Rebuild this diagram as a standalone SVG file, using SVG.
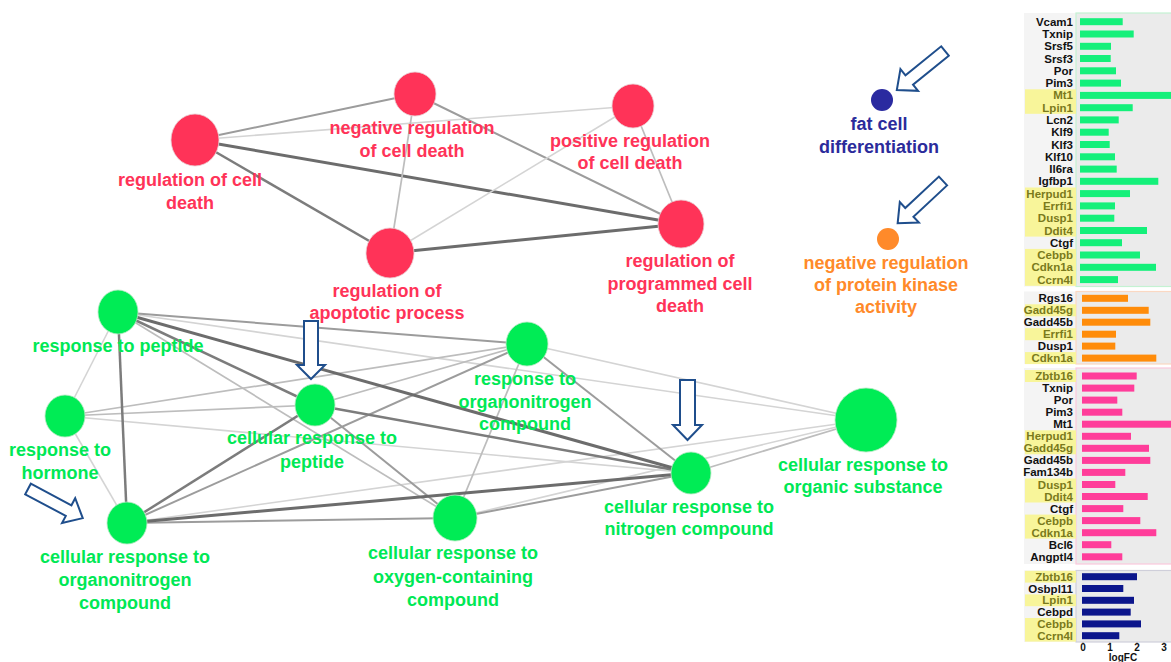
<svg xmlns="http://www.w3.org/2000/svg" width="1171" height="662" viewBox="0 0 1171 662">
<defs>
<style>
.lab{font-family:"Liberation Sans",Arial,sans-serif;font-weight:bold;font-size:18px;text-anchor:middle}
.lr{fill:#ff3358}.lg{fill:#00e855}.lb{fill:#2b2b9b}.lo{fill:#ff8a2a}
.nr{fill:#ff3358;stroke:#e8d0d4;stroke-width:0.8}
.ng{fill:#00ec55;stroke:#b8e8c4;stroke-width:0.8}
.e1{stroke:#d4d4d4;stroke-width:1.6}
.e2{stroke:#bdbdbd;stroke-width:1.7}
.e3{stroke:#9c9c9c;stroke-width:2}
.e4{stroke:#7c7c7c;stroke-width:2.5}
.e5{stroke:#6c6c6c;stroke-width:3}
.arr{fill:#fff;stroke:#1f4e8c;stroke-width:2;stroke-linejoin:miter}
.gl{font-family:"Liberation Sans",Arial,sans-serif;font-weight:bold;font-size:11.5px;text-anchor:end;fill:#111}
.gh{fill:#7a7a1c}
.hl{fill:#f8f59a}
.lbg{fill:#f4f4f4}
.pbg{fill:#ebebeb}
.tk{font-family:"Liberation Sans",Arial,sans-serif;font-weight:bold;font-size:10px;text-anchor:middle;fill:#111}
</style>
</defs>
<rect width="1171" height="662" fill="#fff"/>

<g id="connectors" fill="none">
<!-- red cluster -->
<line class="e3" x1="195" y1="140" x2="415" y2="94"/>
<line class="e1" x1="195" y1="140" x2="633" y2="106"/>
<line class="e5" x1="195" y1="140" x2="681" y2="224"/>
<line class="e4" x1="195" y1="140" x2="390" y2="253"/>
<line class="e2" x1="415" y1="94" x2="390" y2="253"/>
<line class="e3" x1="415" y1="94" x2="681" y2="224"/>
<line class="e1" x1="633" y1="106" x2="390" y2="253"/>
<line class="e2" x1="633" y1="106" x2="681" y2="224"/>
<line class="e5" x1="390" y1="253" x2="681" y2="224"/>
<!-- green cluster -->
<line class="e1" x1="118" y1="312" x2="866" y2="420"/>
<line class="e1" x1="65" y1="416" x2="691" y2="473"/>
<line class="e1" x1="127" y1="523" x2="866" y2="420"/>
<line class="e1" x1="527" y1="344" x2="866" y2="420"/>
<line class="e1" x1="455" y1="518" x2="866" y2="420"/>
<line class="e1" x1="118" y1="312" x2="65" y2="416"/>
<line class="e1" x1="65" y1="416" x2="127" y2="523"/>
<line class="e2" x1="65" y1="416" x2="527" y2="344"/>
<line class="e2" x1="65" y1="416" x2="315" y2="405"/>
<line class="e2" x1="118" y1="312" x2="455" y2="518"/>
<line class="e2" x1="315" y1="405" x2="527" y2="344"/>
<line class="e2" x1="527" y1="344" x2="455" y2="518"/>
<line class="e2" x1="691" y1="473" x2="866" y2="420"/>
<line class="e3" x1="118" y1="312" x2="527" y2="344"/>
<line class="e3" x1="127" y1="523" x2="527" y2="344"/>
<line class="e3" x1="127" y1="523" x2="455" y2="518"/>
<line class="e3" x1="315" y1="405" x2="455" y2="518"/>
<line class="e3" x1="527" y1="344" x2="691" y2="473"/>
<line class="e3" x1="455" y1="518" x2="691" y2="473"/>
<line class="e4" x1="118" y1="312" x2="127" y2="523"/>
<line class="e4" x1="118" y1="312" x2="315" y2="405"/>
<line class="e4" x1="127" y1="523" x2="315" y2="405"/>
<line class="e4" x1="315" y1="405" x2="691" y2="473"/>
<line class="e5" x1="118" y1="312" x2="691" y2="473"/>
<line class="e5" x1="127" y1="523" x2="691" y2="473"/>
</g>

<g id="node-regulation-of-cell-death">
<ellipse class="nr" cx="195" cy="140" rx="24" ry="26"/>
<text class="lab lr" x="190" y="186">regulation of cell</text>
<text class="lab lr" x="190" y="209">death</text>
</g>
<g id="node-negative-regulation-of-cell-death">
<ellipse class="nr" cx="415" cy="94" rx="21" ry="22"/>
<text class="lab lr" x="412" y="134">negative regulation</text>
<text class="lab lr" x="412" y="157">of cell death</text>
</g>
<g id="node-positive-regulation-of-cell-death">
<ellipse class="nr" cx="633" cy="106" rx="21" ry="22"/>
<text class="lab lr" x="630" y="147">positive regulation</text>
<text class="lab lr" x="630" y="169">of cell death</text>
</g>
<g id="node-regulation-of-apoptotic-process">
<ellipse class="nr" cx="390" cy="253" rx="24" ry="25"/>
<text class="lab lr" x="387" y="297">regulation of</text>
<text class="lab lr" x="387" y="319">apoptotic process</text>
</g>
<g id="node-regulation-of-programmed-cell-death">
<ellipse class="nr" cx="681" cy="224" rx="23" ry="24"/>
<text class="lab lr" x="680" y="267">regulation of</text>
<text class="lab lr" x="680" y="290">programmed cell</text>
<text class="lab lr" x="680" y="312">death</text>
</g>

<g id="node-response-to-peptide">
<ellipse class="ng" cx="118" cy="312" rx="20" ry="22"/>
<text class="lab lg" x="118" y="352">response to peptide</text>
</g>
<g id="node-response-to-hormone">
<ellipse class="ng" cx="65" cy="416" rx="20" ry="21"/>
<text class="lab lg" x="60" y="456">response to</text>
<text class="lab lg" x="60" y="479">hormone</text>
</g>
<g id="node-cellular-response-to-peptide">
<ellipse class="ng" cx="315" cy="405" rx="20" ry="21"/>
<text class="lab lg" x="312" y="444">cellular response to</text>
<text class="lab lg" x="312" y="468">peptide</text>
</g>
<g id="node-response-to-organonitrogen-compound">
<ellipse class="ng" cx="527" cy="344" rx="21" ry="22"/>
<text class="lab lg" x="525" y="385">response to</text>
<text class="lab lg" x="525" y="408">organonitrogen</text>
<text class="lab lg" x="525" y="430">compound</text>
</g>
<g id="node-cellular-response-to-organic-substance">
<ellipse class="ng" cx="866" cy="420" rx="31" ry="32"/>
<text class="lab lg" x="863" y="471">cellular response to</text>
<text class="lab lg" x="863" y="493">organic substance</text>
</g>
<g id="node-cellular-response-to-nitrogen-compound">
<ellipse class="ng" cx="691" cy="473" rx="20" ry="21"/>
<text class="lab lg" x="689" y="513">cellular response to</text>
<text class="lab lg" x="689" y="535">nitrogen compound</text>
</g>
<g id="node-cellular-response-to-organonitrogen-compound">
<ellipse class="ng" cx="127" cy="523" rx="20" ry="21"/>
<text class="lab lg" x="125" y="563">cellular response to</text>
<text class="lab lg" x="125" y="586">organonitrogen</text>
<text class="lab lg" x="125" y="609">compound</text>
</g>
<g id="node-cellular-response-to-oxygen-containing-compound">
<ellipse class="ng" cx="455" cy="518" rx="22" ry="23"/>
<text class="lab lg" x="453" y="559">cellular response to</text>
<text class="lab lg" x="453" y="583">oxygen-containing</text>
<text class="lab lg" x="453" y="606">compound</text>
</g>

<g id="node-fat-cell-differentiation">
<circle cx="882" cy="100" r="11" fill="#2a2aa0"/>
<text class="lab lb" x="879" y="130">fat cell</text>
<text class="lab lb" x="879" y="153">differentiation</text>
</g>
<g id="node-negative-regulation-of-protein-kinase-activity">
<circle cx="888" cy="239" r="11" fill="#ff8a2a"/>
<text class="lab lo" x="886" y="269">negative regulation</text>
<text class="lab lo" x="886" y="291">of protein kinase</text>
<text class="lab lo" x="886" y="313">activity</text>
</g>

<g id="highlight-arrows">
<path class="arr" d="M304,321 H318 V365 H325 L311,379 L297,365 H304 Z"/>
<path class="arr" d="M680,380 H695 V425 H702 L687.5,440 L673,425 H680 Z"/>
<path class="arr" transform="translate(28,489) rotate(28)" d="M0,-6 H46 V-14 L62,0 L46,14 V6 H0 Z"/>
<path class="arr" transform="translate(945,51) rotate(141)" d="M0,-6 H46 V-14 L62,0 L46,14 V6 H0 Z"/>
<path class="arr" transform="translate(943,181) rotate(137)" d="M0,-6 H46 V-14 L62,0 L46,14 V6 H0 Z"/>
</g>

<g id="bar-chart">
<!-- backgrounds -->
<rect class="lbg" x="1024" y="13" width="52" height="273.5"/>
<rect class="pbg" x="1076" y="13" width="100" height="273.5" stroke="#c4f2d2" stroke-width="1.2"/>
<rect class="lbg" x="1024" y="291.5" width="52" height="72.5"/>
<rect class="pbg" x="1076" y="291.5" width="100" height="72.5" stroke="#fad8c2" stroke-width="1.2"/>
<rect class="lbg" x="1024" y="368" width="52" height="196"/>
<rect class="pbg" x="1076" y="368" width="100" height="196" stroke="#fbc8dc" stroke-width="1.2"/>
<rect class="lbg" x="1024" y="570.5" width="52" height="71.5"/>
<rect class="pbg" x="1076" y="570.5" width="100" height="71.5" stroke="#cfcfda" stroke-width="1.2"/>
<!-- highlights -->
<g class="hl">
<rect x="1025" y="89.3" width="51" height="24.5"/>
<rect x="1025" y="187.5" width="51" height="49.1"/>
<rect x="1025" y="248.9" width="51" height="36.9"/>
<rect x="1025" y="304.3" width="51" height="12"/>
<rect x="1025" y="328.2" width="51" height="12"/>
<rect x="1025" y="352.1" width="51" height="12"/>
<rect x="1025" y="370" width="51" height="12"/>
<rect x="1025" y="430.3" width="51" height="24"/>
<rect x="1025" y="478.5" width="51" height="24"/>
<rect x="1025" y="514.6" width="51" height="24"/>
<rect x="1025" y="570.8" width="51" height="11.8"/>
<rect x="1025" y="594.4" width="51" height="11.8"/>
<rect x="1025" y="618" width="51" height="23.6"/>
</g>
<!-- green bars -->
<g fill="#14f07a">
<rect x="1080" y="18.2" width="42.7" height="7"/>
<rect x="1080" y="30.5" width="53.7" height="7"/>
<rect x="1080" y="42.8" width="31" height="7"/>
<rect x="1080" y="55" width="30.7" height="7"/>
<rect x="1080" y="67.3" width="36" height="7"/>
<rect x="1080" y="79.6" width="41" height="7"/>
<rect x="1080" y="91.9" width="95" height="7"/>
<rect x="1080" y="104.2" width="52.7" height="7"/>
<rect x="1080" y="116.4" width="38.7" height="7"/>
<rect x="1080" y="128.7" width="28.7" height="7"/>
<rect x="1080" y="141" width="29.7" height="7"/>
<rect x="1080" y="153.3" width="35" height="7"/>
<rect x="1080" y="165.6" width="36.7" height="7"/>
<rect x="1080" y="177.8" width="78.3" height="7"/>
<rect x="1080" y="190.1" width="50" height="7"/>
<rect x="1080" y="202.4" width="35" height="7"/>
<rect x="1080" y="214.7" width="34.3" height="7"/>
<rect x="1080" y="227" width="67" height="7"/>
<rect x="1080" y="239.2" width="42" height="7"/>
<rect x="1080" y="251.5" width="60" height="7"/>
<rect x="1080" y="263.8" width="76" height="7"/>
<rect x="1080" y="276.1" width="38" height="7"/>
</g>
<g class="gl">
<text x="1073" y="25.7">Vcam1</text>
<text x="1073" y="38">Txnip</text>
<text x="1073" y="50.3">Srsf5</text>
<text x="1073" y="62.5">Srsf3</text>
<text x="1073" y="74.8">Por</text>
<text x="1073" y="87.1">Pim3</text>
<text x="1073" y="99.4" class="gh">Mt1</text>
<text x="1073" y="111.7" class="gh">Lpin1</text>
<text x="1073" y="123.9">Lcn2</text>
<text x="1073" y="136.2">Klf9</text>
<text x="1073" y="148.5">Klf3</text>
<text x="1073" y="160.8">Klf10</text>
<text x="1073" y="173.1">Il6ra</text>
<text x="1073" y="185.3">Igfbp1</text>
<text x="1073" y="197.6" class="gh">Herpud1</text>
<text x="1073" y="209.9" class="gh">Errfi1</text>
<text x="1073" y="222.2" class="gh">Dusp1</text>
<text x="1073" y="234.5" class="gh">Ddit4</text>
<text x="1073" y="246.7">Ctgf</text>
<text x="1073" y="259" class="gh">Cebpb</text>
<text x="1073" y="271.3" class="gh">Cdkn1a</text>
<text x="1073" y="283.6" class="gh">Ccrn4l</text>
</g>
<!-- orange bars -->
<g fill="#ff8c0a">
<rect x="1082" y="294.8" width="46" height="7"/>
<rect x="1082" y="306.8" width="66.7" height="7"/>
<rect x="1082" y="318.7" width="68.3" height="7"/>
<rect x="1082" y="330.7" width="34" height="7"/>
<rect x="1082" y="342.6" width="33.3" height="7"/>
<rect x="1082" y="354.6" width="74.3" height="7"/>
</g>
<g class="gl">
<text x="1073" y="302.3">Rgs16</text>
<text x="1073" y="314.3" class="gh">Gadd45g</text>
<text x="1073" y="326.2">Gadd45b</text>
<text x="1073" y="338.2" class="gh">Errfi1</text>
<text x="1073" y="350.1">Dusp1</text>
<text x="1073" y="362.1" class="gh">Cdkn1a</text>
</g>
<!-- pink bars -->
<g fill="#ff3d9a">
<rect x="1082" y="372.5" width="54.7" height="7"/>
<rect x="1082" y="384.6" width="52.3" height="7"/>
<rect x="1082" y="396.6" width="35.3" height="7"/>
<rect x="1082" y="408.7" width="40.3" height="7"/>
<rect x="1082" y="420.7" width="93" height="7"/>
<rect x="1082" y="432.8" width="49" height="7"/>
<rect x="1082" y="444.8" width="67" height="7"/>
<rect x="1082" y="456.9" width="68.3" height="7"/>
<rect x="1082" y="468.9" width="43.3" height="7"/>
<rect x="1082" y="481" width="33.3" height="7"/>
<rect x="1082" y="493" width="65.7" height="7"/>
<rect x="1082" y="505.1" width="41.3" height="7"/>
<rect x="1082" y="517.1" width="58.3" height="7"/>
<rect x="1082" y="529.2" width="74.3" height="7"/>
<rect x="1082" y="541.2" width="29.3" height="7"/>
<rect x="1082" y="553.3" width="40.3" height="7"/>
</g>
<g class="gl">
<text x="1073" y="380" class="gh">Zbtb16</text>
<text x="1073" y="392.1">Txnip</text>
<text x="1073" y="404.1">Por</text>
<text x="1073" y="416.2">Pim3</text>
<text x="1073" y="428.2">Mt1</text>
<text x="1073" y="440.3" class="gh">Herpud1</text>
<text x="1073" y="452.3" class="gh">Gadd45g</text>
<text x="1073" y="464.4">Gadd45b</text>
<text x="1073" y="476.4">Fam134b</text>
<text x="1073" y="488.5" class="gh">Dusp1</text>
<text x="1073" y="500.5" class="gh">Ddit4</text>
<text x="1073" y="512.6">Ctgf</text>
<text x="1073" y="524.6" class="gh">Cebpb</text>
<text x="1073" y="536.7" class="gh">Cdkn1a</text>
<text x="1073" y="548.7">Bcl6</text>
<text x="1073" y="560.8">Angptl4</text>
</g>
<!-- blue bars -->
<g fill="#0c168c">
<rect x="1082" y="573.2" width="55" height="7"/>
<rect x="1082" y="585" width="41.3" height="7"/>
<rect x="1082" y="596.8" width="52" height="7"/>
<rect x="1082" y="608.6" width="48.7" height="7"/>
<rect x="1082" y="620.4" width="59" height="7"/>
<rect x="1082" y="632.2" width="37.3" height="7"/>
</g>
<g class="gl">
<text x="1073" y="580.7" class="gh">Zbtb16</text>
<text x="1073" y="592.5">Osbpl11</text>
<text x="1073" y="604.3" class="gh">Lpin1</text>
<text x="1073" y="616.1">Cebpd</text>
<text x="1073" y="627.9" class="gh">Cebpb</text>
<text x="1073" y="639.7" class="gh">Ccrn4l</text>
</g>
<!-- axis -->
<g stroke="#999" stroke-width="1">
<line x1="1083" y1="642" x2="1083" y2="644"/>
<line x1="1110" y1="642" x2="1110" y2="644"/>
<line x1="1137" y1="642" x2="1137" y2="644"/>
<line x1="1164" y1="642" x2="1164" y2="644"/>
</g>
<text class="tk" x="1083" y="651">0</text>
<text class="tk" x="1110" y="651">1</text>
<text class="tk" x="1137" y="651">2</text>
<text class="tk" x="1164" y="651">3</text>
<text class="tk" x="1123" y="661" font-size="9.5">logFC</text>
</g>
</svg>
